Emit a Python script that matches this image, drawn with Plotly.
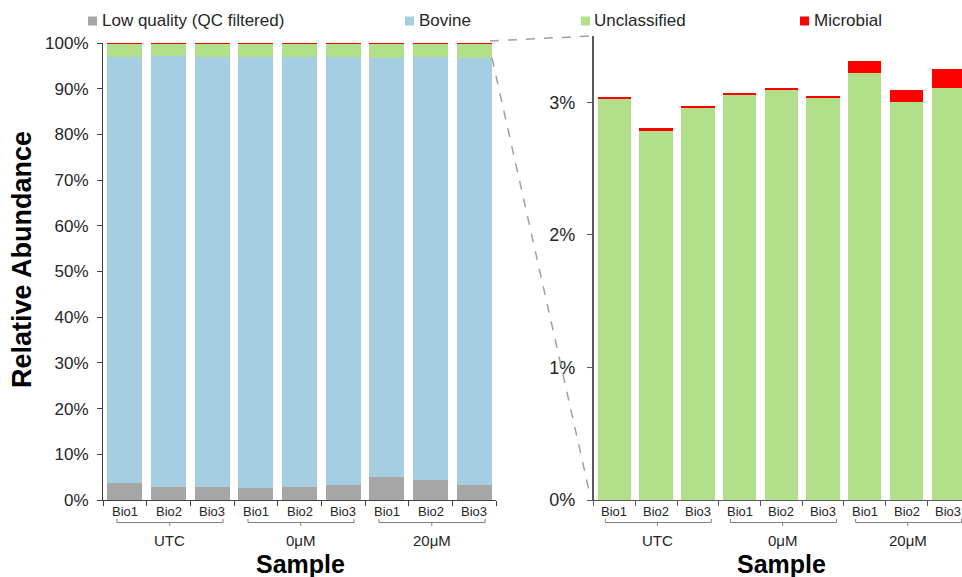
import plotly.graph_objects as go

W, H = 962, 577

samples = ["Bio1", "Bio2", "Bio3", "Bio1", "Bio2", "Bio3", "Bio1", "Bio2", "Bio3"]
groups = ["UTC", "0μM", "20μM"]

low_quality = [3.65, 2.80, 2.80, 2.60, 2.90, 3.35, 5.00, 4.45, 3.35]
bovine = [93.31, 94.40, 94.23, 94.33, 93.99, 93.60, 91.69, 92.46, 93.40]
unclassified = [3.03, 2.79, 2.96, 3.06, 3.10, 3.03, 3.22, 3.00, 3.11]
microbial = [0.013, 0.015, 0.013, 0.010, 0.010, 0.017, 0.090, 0.095, 0.140]

series_names = ["Low quality (QC filtered)", "Bovine", "Unclassified", "Microbial"]
colors = ["#A6A6A6", "#A6CEE3", "#B2DF8A", "#FF0000"]

left_ticks = list(range(0, 101, 10))
right_ticks = [0, 1, 2, 3]

FONT = "Liberation Sans, Arial, sans-serif"
TXT = "#262626"

xs = list(range(len(samples)))


def px(x):
    return x / W


def py(y):
    return 1 - y / H


fig = go.Figure()
for name, vals, col in zip(series_names, [low_quality, bovine, unclassified, microbial], colors):
    fig.add_trace(go.Bar(x=xs, y=vals, name=name, marker=dict(color=col, line=dict(width=0)),
                         xaxis="x", yaxis="y", showlegend=False))
for name, vals, col in zip(series_names[2:], [unclassified, microbial], colors[2:]):
    fig.add_trace(go.Bar(x=xs, y=vals, name=name, marker=dict(color=col, line=dict(width=0)),
                         xaxis="x2", yaxis="y2", showlegend=False))

left_dom = [px(103), px(496)]
right_dom = [px(593.6), 1.0]
ybot = py(500)

fig.update_layout(
    width=W, height=H,
    margin=dict(l=0, r=0, t=0, b=0, autoexpand=False),
    paper_bgcolor="white", plot_bgcolor="white",
    barmode="stack", bargap=0.2,
    font=dict(family=FONT, color=TXT),
    xaxis=dict(domain=left_dom, range=[-0.5, 8.5], anchor="y", automargin=False,
               tickvals=[i - 0.5 for i in range(10)], showticklabels=False,
               ticks="outside", ticklen=5, tickcolor="#404040", tickwidth=1,
               showline=True, linecolor="#404040", linewidth=1, showgrid=False, zeroline=False),
    yaxis=dict(domain=[ybot, py(43)], range=[0, 100], anchor="x", automargin=False,
               tickvals=left_ticks, ticktext=[f"{v}%" for v in left_ticks],
               ticks="outside", ticklen=5, tickcolor="#404040", tickwidth=1,
               ticklabelstandoff=5,
               tickfont=dict(size=17, color=TXT, family=FONT),
               showline=True, linecolor="#404040", linewidth=1, showgrid=False, zeroline=False),
    xaxis2=dict(domain=right_dom, range=[-0.5, 8.33], anchor="y2", automargin=False,
                tickvals=[i - 0.5 for i in range(10)], showticklabels=False,
                ticks="outside", ticklen=5, tickcolor="#595959", tickwidth=1,
                showline=True, linecolor="#595959", linewidth=1, showgrid=False, zeroline=False),
    yaxis2=dict(domain=[ybot, py(36)], range=[0, 3.5], anchor="x2", automargin=False,
                tickvals=right_ticks, ticktext=[f"{v}%" for v in right_ticks],
                ticks="outside", ticklen=5, tickcolor="#595959", tickwidth=1,
                ticklabelstandoff=8,
                tickfont=dict(size=18, color=TXT, family=FONT),
                showline=True, linecolor="#595959", linewidth=1.5, showgrid=False, zeroline=False),
)

annotations = []
shapes = []

# sample + group labels under both charts
for xref, lo, hi in [("x", -0.18, 2.25), ("x2", -0.22, 2.32)]:
    for i, s in enumerate(samples):
        annotations.append(dict(x=i, y=py(511), xref=xref, yref="paper", text=s, showarrow=False,
                                font=dict(size=13, color=TXT, family=FONT), xanchor="center", yanchor="middle"))
    for g, name in enumerate(groups):
        x0, x1 = 3 * g + lo, 3 * g + hi
        xc = 3 * g + 1.03
        path = (f"M {x0},{py(519)} L {x0},{py(522.5)} L {x1},{py(522.5)} L {x1},{py(519)} "
                f"M {xc},{py(522.5)} L {xc},{py(526)}")
        shapes.append(dict(type="path", path=path, xref=xref, yref="paper",
                           line=dict(color="#7F7F7F", width=1)))
        annotations.append(dict(x=3 * g + 1.03, y=py(540), xref=xref, yref="paper", text=name, showarrow=False,
                                font=dict(size=15, color=TXT, family=FONT), xanchor="center", yanchor="middle"))

# axis titles
annotations.append(dict(x=px(300), y=py(564), xref="paper", yref="paper", text="<b>Sample</b>",
                        showarrow=False, font=dict(size=25, color="black", family=FONT),
                        xanchor="center", yanchor="middle"))
annotations.append(dict(x=px(781), y=py(564), xref="paper", yref="paper", text="<b>Sample</b>",
                        showarrow=False, font=dict(size=25, color="black", family=FONT),
                        xanchor="center", yanchor="middle"))
annotations.append(dict(x=px(22), y=py(260), xref="paper", yref="paper", text="<b>Relative Abundance</b>",
                        textangle=-90, showarrow=False, font=dict(size=27, color="black", family=FONT),
                        xanchor="center", yanchor="middle"))

# legend
legend_pos = [(88, 100), (405, 417), (581, 592), (800, 812)]
for (sx, tx), name, col in zip(legend_pos, series_names, colors):
    shapes.append(dict(type="rect", xref="paper", yref="paper", x0=px(sx), x1=px(sx + 9),
                       y0=py(25.5), y1=py(16.5), fillcolor=col, line=dict(width=0)))
    annotations.append(dict(x=px(tx), y=py(20.5), xref="paper", yref="paper", text=name, showarrow=False,
                            font=dict(size=17, color=TXT, family=FONT), xanchor="left", yanchor="middle"))

# zoom connector dashed lines
shapes.append(dict(type="line", xref="paper", yref="paper", x0=px(490), y0=py(41), x1=px(590), y1=py(36),
                   line=dict(color="#A0A0A0", width=1.5, dash="dash")))
shapes.append(dict(type="line", xref="paper", yref="paper", x0=px(492), y0=py(58), x1=px(590), y1=py(495),
                   line=dict(color="#A0A0A0", width=1.5, dash="dash")))

fig.update_layout(annotations=annotations, shapes=shapes)
fig.write_html("out.html", config={"displayModeBar": False},
               post_script="document.body.style.margin='0';document.body.style.overflow='hidden';")
